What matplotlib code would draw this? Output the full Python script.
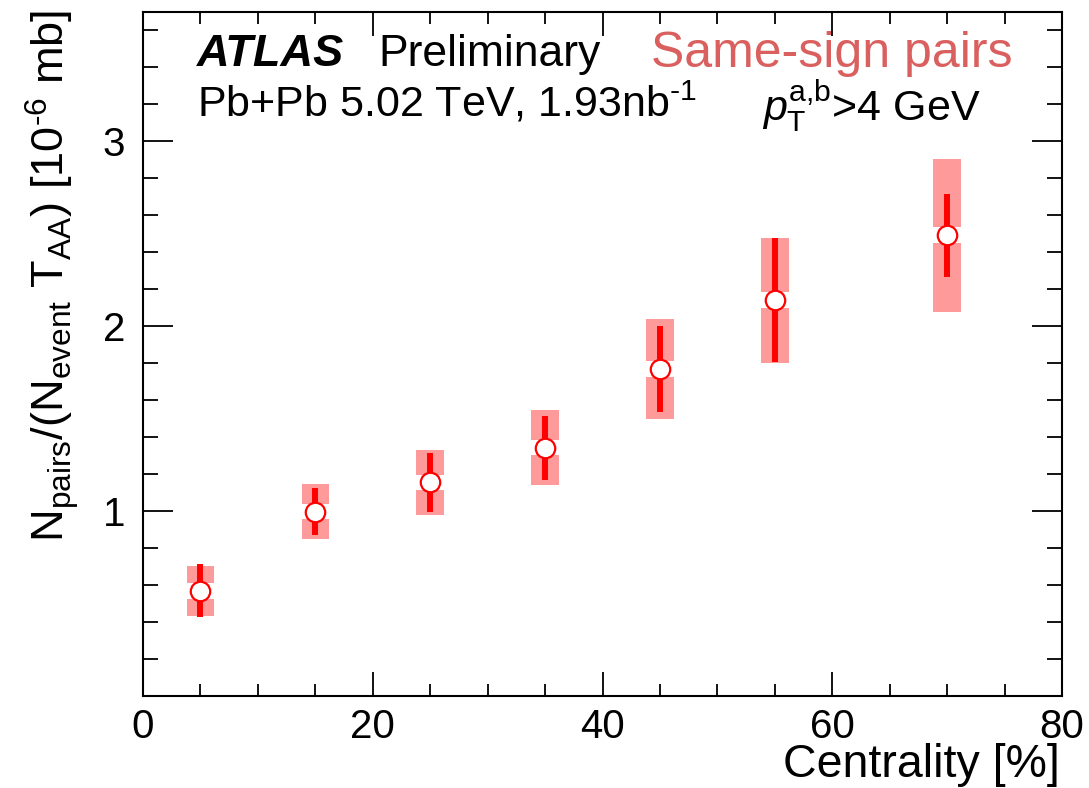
import matplotlib
matplotlib.use("Agg")
import matplotlib.pyplot as plt
from matplotlib.ticker import MultipleLocator, FuncFormatter

plt.rcParams["font.family"] = ["Liberation Sans", "DejaVu Sans"]
plt.rcParams["mathtext.fontset"] = "custom"
plt.rcParams["mathtext.rm"] = "Liberation Sans"
plt.rcParams["mathtext.it"] = "Liberation Sans:italic"
plt.rcParams["mathtext.bf"] = "Liberation Sans:bold"

# same-sign pair yield per centrality bin
centrality = [5, 15, 25, 35, 45, 55, 70]
yields = [0.569, 0.998, 1.155, 1.344, 1.768, 2.141, 2.492]
stat_err = [0.143, 0.129, 0.159, 0.173, 0.231, 0.335, 0.225]
sys_err = [0.135, 0.150, 0.176, 0.203, 0.272, 0.339, 0.413]

box_color = "#ff9a9a"
line_color = "#ff0000"
box_width = 2.4
gap = 0.043  # hole in the sys box around the marker
HY = "\u2010"  # plain hyphen for exponents

W, H = 1089, 788
fig = plt.figure(figsize=(W / 100, H / 100), dpi=100)
ax = fig.add_axes([143 / W, 1 - 696 / H, (1062 - 143) / W, (696 - 12) / H])

# systematic boxes, split around the marker
low_bottom = [y - s for y, s in zip(yields, sys_err)]
low_height = [s - gap for s in sys_err]
high_bottom = [y + gap for y in yields]
ax.bar(centrality, low_height, bottom=low_bottom, width=box_width,
       color=box_color, linewidth=0, zorder=1)
ax.bar(centrality, low_height, bottom=high_bottom, width=box_width,
       color=box_color, linewidth=0, zorder=1)

# statistical errors
ax.errorbar(centrality, yields, yerr=stat_err, fmt="none",
            ecolor=line_color, elinewidth=4.3, capsize=0, zorder=2)
ax.plot(centrality, yields, "o", ms=14, mfc="white", mec=line_color,
        mew=1.6, zorder=3)

ax.set_xlim(0, 80)
ax.set_ylim(0, 3.70)
ax.xaxis.set_major_locator(MultipleLocator(20))
ax.xaxis.set_minor_locator(MultipleLocator(5))
ax.yaxis.set_major_locator(MultipleLocator(1))
ax.yaxis.set_minor_locator(MultipleLocator(0.2))
ax.yaxis.set_major_formatter(FuncFormatter(lambda v, p: "" if v == 0 else f"{v:g}"))
ax.tick_params(axis="both", which="both", direction="in",
               top=True, right=True, width=1.3, labelsize=29)
ax.tick_params(axis="x", which="major", length=17.3, pad=9)
ax.tick_params(axis="x", which="minor", length=8.6)
ax.tick_params(axis="y", which="major", length=21.6, pad=13)
ax.tick_params(axis="y", which="minor", length=10.8)
for sp in ax.spines.values():
    sp.set_linewidth(1.5)

fig.text(1060 / W, 1 - 777 / H, "Centrality [%]", ha="right",
         va="baseline", fontsize=33.5)
fig.text(52 / W, 1 - 10 / H,
         r"N$_{\mathrm{pairs}}$/(N$_{\mathrm{event}}$ T$_{\mathrm{AA}}$) [10$^{\mathrm{" + HY + r"6}}$ mb]",
         rotation=90, ha="center", va="top", fontsize=32.5)

def axpos(px, py):
    return (px - 143) / (1062 - 143), (696 - py) / (696 - 12)

x, y = axpos(197, 66)
ax.text(x, y, "ATLAS", transform=ax.transAxes, fontsize=32.5,
        fontweight="bold", fontstyle="italic", va="baseline")
x, y = axpos(378, 66)
ax.text(x, y, "Preliminary", transform=ax.transAxes, fontsize=32,
        va="baseline")
x, y = axpos(197, 116)
ax.text(x, y, r"Pb+Pb 5.02 TeV, 1.93nb$^{\mathrm{" + HY + r"1}}$",
        transform=ax.transAxes, fontsize=31, va="baseline")
x, y = axpos(651, 67)
ax.text(x, y, "Same-sign pairs", transform=ax.transAxes, fontsize=36,
        va="baseline", color="#d9605f")
x, y = axpos(762, 121)
ax.text(x, y, r"$p_{\mathrm{T}}^{\mathrm{a{,}b}}$>4 GeV",
        transform=ax.transAxes, fontsize=31, va="baseline")

fig.savefig("out.png", dpi=100)
